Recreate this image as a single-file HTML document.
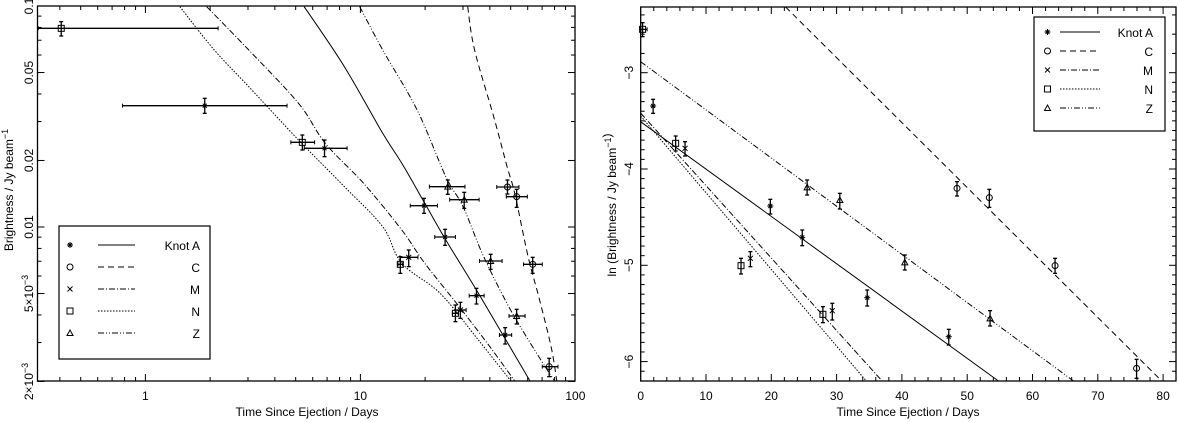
<!DOCTYPE html>
<html><head><meta charset="utf-8">
<style>html,body{margin:0;padding:0;background:#fff;}svg{display:block;}text{font-family:"Liberation Sans",sans-serif;font-size:12px;fill:#000;}</style>
</head><body>
<svg id="s" width="1179" height="422" viewBox="0 0 1179 422" xmlns="http://www.w3.org/2000/svg"></svg>
<script>
const S=document.getElementById('s');let h='';
function L(x1,y1,x2,y2,w,d){h+=`<line x1="${x1}" y1="${y1}" x2="${x2}" y2="${y2}" stroke="#000" stroke-width="${w||1}"${d?` stroke-dasharray="${d}"`:''}/>`;}
function T(x,y,t,a,rot){h+=`<text x="${x}" y="${y}" text-anchor="${a||'middle'}"${rot?` transform="rotate(-90 ${x} ${y})"`:''}>${t}</text>`;}
const DASH={A:null,C:'6,4',M:'6,2,1,2',N:'1.5,1.5',Z:'6,2,1,2,1,2'};
function sym(x,y,k){
 if(k=='N')h+=`<rect x="${x-3}" y="${y-3}" width="6" height="6" fill="none" stroke="#000"/>`;
 else if(k=='C')h+=`<circle cx="${x}" cy="${y}" r="3" fill="none" stroke="#000"/>`;
 else if(k=='Z')h+=`<path d="M${x-3} ${y+2.5}L${x} ${y-3}L${x+3} ${y+2.5}Z" fill="none" stroke="#000"/>`;
 else if(k=='M'){L(x-2.5,y-2.5,x+2.5,y+2.5);L(x-2.5,y+2.5,x+2.5,y-2.5);}
 else {L(x-3,y,x+3,y);L(x,y-3,x,y+3);L(x-2,y-2,x+2,y+2);L(x-2,y+2,x+2,y-2);}
}
function pt(x,y,k,x1,x2,y1,y2){
 if(x1!=null&&x2-x1>2){L(x1,y,x2,y,1.3);L(x1,y-2,x1,y+2);L(x2,y-2,x2,y+2);}
 L(x,y1,x,y2,1.3);L(x-2,y1,x+2,y1,1.3);L(x-2,y2,x+2,y2,1.3);sym(x,y,k);
}
function smooth(P){let d=`M${P[0][0].toFixed(1)},${P[0][1].toFixed(1)}`;
 for(let i=0;i<P.length-1;i++){const p0=P[i-1]||P[i],p1=P[i],p2=P[i+1],p3=P[i+2]||P[i+1];
  const c1=[p1[0]+(p2[0]-p0[0])/6,p1[1]+(p2[1]-p0[1])/6],c2=[p2[0]-(p3[0]-p1[0])/6,p2[1]-(p3[1]-p1[1])/6];
  d+=`C${c1[0].toFixed(1)},${c1[1].toFixed(1)} ${c2[0].toFixed(1)},${c2[1].toFixed(1)} ${p2[0].toFixed(1)},${p2[1].toFixed(1)}`;}
 return d;}
// ===== LEFT =====
const lx0=37.5,lx1=575,ly0=6,ly1=381;
h+=`<rect x="${lx0}" y="${ly0}" width="${lx1-lx0}" height="${ly1-ly0}" fill="none" stroke="#000" stroke-width="1.3"/>`;
const LX=t=>145.4+215*Math.log10(t), LY=v=>ly0+221*(-1-Math.log10(v));
for(let d of [0.1,1,10]){for(let m=1;m<10;m++){const t=d*m;const x=LX(t);if(x<lx0+1||x>lx1-1)continue;const len=m==1?7:4;L(x,ly1,x,ly1-len);L(x,ly0,x,ly0+len);}}
T(LX(1),400,'1');T(LX(10),400,'10');T(LX(100),400,'100');
for(let d of [0.001,0.01]){for(let m=1;m<10;m++){const v=d*m;if(v<0.00199||v>0.1001)continue;const y=LY(v);const maj=(m==1||m==2||m==5);L(lx0,y,lx0+(maj?7:4),y);L(lx1,y,lx1-(maj?7:4),y);}}
L(lx0,LY(0.1),lx0+7,LY(0.1));
T(33,LY(0.1),'0.1','middle',1);T(33,LY(0.05),'0.05','middle',1);T(33,LY(0.02),'0.02','middle',1);T(33,LY(0.01),'0.01','middle',1);
h+=`<text x="33" y="${LY(0.005)}" text-anchor="middle" transform="rotate(-90 33 ${LY(0.005)})">5×10<tspan dy="-5" font-size="9">−3</tspan></text>`;
h+=`<text x="33" y="${LY(0.002)}" text-anchor="middle" transform="rotate(-90 33 ${LY(0.002)})">2×10<tspan dy="-5" font-size="9">−3</tspan></text>`;
h+=`<text x="13" y="190" text-anchor="middle" transform="rotate(-90 13 190)">Brightness / Jy beam<tspan dy="-5" font-size="9">−1</tspan></text>`;
T(307,416,'Time Since Ejection / Days');
const fx=2.613,fy=3;
const curves={A:[[795,20],[900,200],[1000,400],[1050,490],[1110,610],[1165,720],[1250,880],[1385,1143]],
C:[[1222,20],[1240,150],[1290,350],[1325,500],[1345,580],[1380,770],[1410,900],[1440,1040],[1455,1143]],
M:[[540,20],[650,150],[780,310],[850,430],[950,550],[1050,690],[1110,790],[1200,920],[1280,1040],[1345,1143]],
N:[[470,20],[560,150],[650,260],[780,420],[900,560],[1000,680],[1050,790],[1150,880],[1250,1020],[1335,1143]],
Z:[[940,20],[1000,150],[1090,330],[1165,530],[1210,620],[1260,760],[1320,900],[1370,1000],[1430,1110],[1450,1143]]};
for(const k in curves){const P=curves[k].map(q=>[q[0]/fx,q[1]/fy]);h+=`<path d="${smooth(P)}" fill="none" stroke="#000" stroke-width="1"${DASH[k]?` stroke-dasharray="${DASH[k]}"`:''}/>`;}
const lp=[['N',160,85,100,570,65,108],['A',535,317,320,750,295,340],['N',790,427,760,822,405,450],['A',848,445,795,907,420,470],
['Z',1170,560,1122,1215,540,583],['C',1326,561,1298,1356,540,582],['C',1350,590,1323,1378,568,622],['Z',1213,599,1175,1252,577,625],
['A',1108,617,1072,1143,595,640],['A',1163,711,1136,1190,688,736],['M',1068,772,1045,1092,750,800],['N',1046,793,1040,1052,770,820],
['Z',1282,783,1253,1312,763,808],['C',1392,793,1368,1417,772,820],['A',1245,887,1226,1265,865,912],['N',1190,940,1182,1198,915,965],
['M',1203,930,1190,1218,907,955],['Z',1350,948,1330,1372,928,972],['A',1320,1005,1305,1337,983,1032],['C',1435,1100,1417,1458,1075,1130]];
for(const p of lp)pt(p[1]/fx,p[2]/fy,p[0],p[3]/fx,p[4]/fx,p[5]/fy,p[6]/fy);
h+=`<rect x="59" y="226" width="151" height="133" fill="#fff" stroke="#000" stroke-width="1.2"/>`;
const names=['Knot A','C','M','N','Z'],keys=['A','C','M','N','Z'];
for(let i=0;i<5;i++){const y=245+i*22;sym(70,y,keys[i]);L(98,y,135,y,1,DASH[keys[i]]);T(200,y+5,names[i],'end');}
// ===== RIGHT =====
const rx0=640.7,rx1=1176,ry0=7,ry1=381;
h+=`<rect x="${rx0}" y="${ry0}" width="${rx1-rx0}" height="${ry1-ry0}" fill="none" stroke="#000" stroke-width="1.3"/>`;
const RX=t=>640.7+6.53*t, RY=v=>72.7+96.3*(-3-v);
for(let t=2;t<82;t+=2){const x=RX(t);if(x>rx1-1)continue;const len=t%10==0?7:4;L(x,ry1,x,ry1-len);L(x,ry0,x,ry0+len);}
for(let t=0;t<=80;t+=10)T(RX(t),400,String(t));
for(let i=-31;i>=-62;i-=1){const v=i/10;const y=RY(v);if(y<ry0+1||y>ry1-1)continue;const maj=i%10==0;const len=maj?7:4;L(rx0,y,rx0+len,y);L(rx1,y,rx1-len,y);}
for(const v of [-2.4,-2.6,-2.8,-3]){L(rx0,RY(v),rx0+(v==-3?7:4),RY(v));L(rx1,RY(v),rx1-(v==-3?7:4),RY(v));}
for(const v of [-3,-4,-5,-6])T(633,RY(v),'−'+(-v),'middle',1);
h+=`<text x="616" y="205" text-anchor="middle" transform="rotate(-90 616 205)">ln (Brightness / Jy beam<tspan dy="-5" font-size="9">−1</tspan>)</text>`;
T(908,416,'Time Since Ejection / Days');
const fits={A:[-3.51,-0.0491],C:[-0.822,-0.0674],M:[-3.42,-0.0752],N:[-3.45,-0.0796],Z:[-2.886,-0.05]};
for(const k in fits){const [a,b]=fits[k];let t0=0;if(a>-2.318)t0=(-2.318-a)/b;const t1=(-6.2-a)/b;
 h+=`<line x1="${RX(t0)}" y1="${RY(a+b*t0)}" x2="${RX(t1)}" y2="${ry1}" stroke="#000" stroke-width="1"${DASH[k]?` stroke-dasharray="${DASH[k]}"`:''}/>`;}
const gx=2.662;
const rp=[['N',140,88,135,152,68,110],['A',168,318,0,0,298,340],['N',228,430,0,0,408,453],['M',253,445,0,0,425,468],
['A',480,618,0,0,598,642],['A',565,712,0,0,690,737],['Z',578,562,0,0,540,585],['Z',665,600,0,0,580,627],['N',402,797,0,0,775,822],
['M',427,775,0,0,755,800],['Z',838,787,0,0,765,810],['N',620,943,0,0,920,968],['M',645,932,0,0,910,960],['A',738,893,0,0,870,918],
['A',955,1010,0,0,988,1035],['C',977,565,0,0,545,588],['C',1063,593,0,0,568,622],['Z',1065,955,0,0,932,978],['C',1238,797,0,0,775,820],['C',1455,1105,0,0,1078,1135]];
for(const p of rp){const X=v=>590+v/gx;pt(X(p[1]),p[2]/3,p[0],p[3]?X(p[3]):null,p[4]?X(p[4]):null,p[5]/3,p[6]/3);}
h+=`<rect x="1034" y="17" width="131" height="114" fill="#fff" stroke="#000" stroke-width="1.2"/>`;
for(let i=0;i<5;i++){const y=32+i*19;sym(1047.5,y,keys[i]);L(1060,y,1100,y,1,DASH[keys[i]]);T(1153,y+5,names[i],'end');}
S.innerHTML=h;
</script>
</body></html>
